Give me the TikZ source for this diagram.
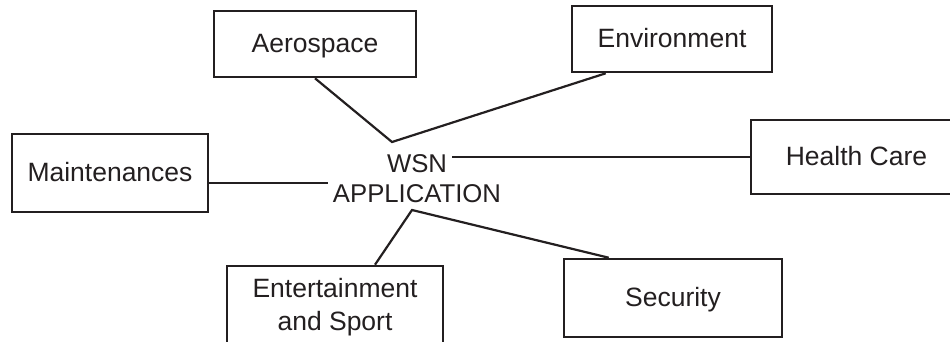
\documentclass[tikz,border=0pt]{standalone}
\usepackage{fontspec}
\setmainfont{Liberation Sans}
\definecolor{ink}{HTML}{231F20}

\begin{document}
\begin{tikzpicture}[x=1pt,y=-1pt,
  box/.style={draw=ink,line width=2.6pt,inner sep=0pt,align=center,text=ink,font=\fontsize{26.5}{33}\selectfont},
  oneline/.style={text height=19pt,text depth=1.3pt},
  hub/.style={inner ysep=1pt,inner xsep=5pt,text=ink,font=\fontsize{25.7}{30}\selectfont},
  link/.style={draw=ink,line width=2.2pt}
]
\useasboundingbox (0,0) rectangle (950,341);
\clip (0,0) rectangle (950,341);

% centre text
\node[hub,anchor=base] (wsn) at (417,172) {WSN};
\node[hub,anchor=base] (app) at (417,202) {APPLICATION};

% application boxes
\node[box,oneline,minimum width=202pt,minimum height=66pt] (aero) at (315,44) {Aerospace};
\node[box,oneline,minimum width=200pt,minimum height=66pt] (env) at (672,39) {Environment};
\node[box,oneline,minimum width=196pt,minimum height=78pt] (maint) at (110,173) {Maintenances};
\node[box,oneline,minimum width=211pt,minimum height=74pt] (health) at (856.5,157) {Health Care};
\node[box,minimum width=216pt,minimum height=82pt] (ent) at (335,307) {Entertainment\\and Sport};
\node[box,oneline,minimum width=218pt,minimum height=78pt] (sec) at (673,298) {Security};

\coordinate (upper) at (392,142);
\coordinate (lower) at (412,210);

\draw[link] (aero.south) -- (upper) -- ([xshift=35pt]env.south west);
\draw[link] (app.north west -| maint.east) -- (app.north west);
\draw[link] (health.west) -- (health.west -| wsn.east);
\draw[link] ([xshift=40pt]ent.north) -- (lower) -- ([xshift=46pt]sec.north west);
\end{tikzpicture}
\end{document}
